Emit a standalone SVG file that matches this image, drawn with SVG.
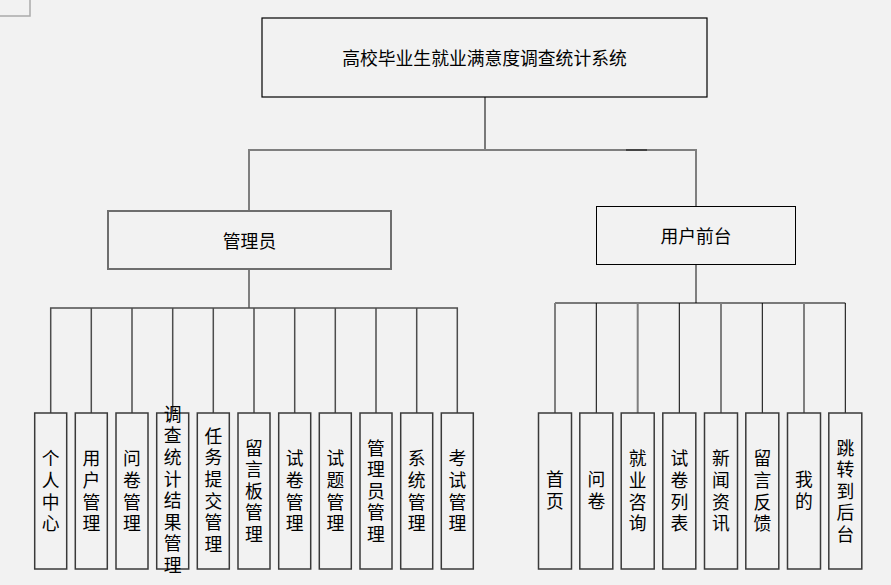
<svg xmlns="http://www.w3.org/2000/svg" width="891" height="585" viewBox="0 0 891 585">
<style>
text{font-family:"Noto Sans CJK SC","Noto Sans",sans-serif;font-size:17.8px;fill:#000;text-anchor:middle;dominant-baseline:central}
.v{writing-mode:vertical-rl;text-orientation:upright;letter-spacing:3.8px}
.box{fill:#f2f2f2;stroke:#3a3a3a;stroke-width:1.5}
.g{stroke:#7f7f7f;stroke-width:2;fill:none}
.k{stroke:#000;stroke-width:1;fill:none}
.d{stroke:#4d4d4d;stroke-width:1.5;fill:none}
</style>
<rect width="891" height="585" fill="#f2f2f2"/>
<path d="M0 16H30V0" fill="none" stroke="#aaa" stroke-width="1.5"/>
<g id="connectors">
<path class="k" d="M485 97V150"/>
<path class="g" d="M249 211V150H696V206"/>
<path d="M626 150H647" stroke="#444" stroke-width="2"/>
<path class="g" d="M249 269V308"/>
<path class="d" d="M50.7 413V308H457.3V413"/>
<path class="d" d="M91.3 308V413M132 308V413M172.7 308V413M213.3 308V413M254 308V413M294.7 308V413M335.3 308V413M376 308V413M416.7 308V413"/>
<path class="g" d="M696 264V303"/>
<path class="k" d="M555 303H845.3V413"/>
<path class="g" d="M555 303V413M637.7 303V413M721 303V413M804 303V413"/>
<path class="k" d="M596.3 303V413M679.3 303V413M762.3 303V413"/>
</g>
<g id="root"><rect x="262" y="18" width="445" height="79" fill="#f2f2f2" stroke="#000" stroke-width="1.2"/><text x="484.5" y="57">高校毕业生就业满意度调查统计系统</text></g>
<g id="admin"><rect x="108" y="211" width="283" height="58" fill="#f2f2f2" stroke="#6e6e6e" stroke-width="2"/><text x="249.5" y="240">管理员</text></g>
<g id="front"><rect x="596.5" y="206.5" width="199" height="58" fill="#f2f2f2" stroke="#000" stroke-width="1"/><text x="696" y="235">用户前台</text></g>
<g id="a1"><rect class="box" x="34.7" y="413" width="32" height="156"/><text class="v" x="50.7" y="493">个人中心</text></g>
<g id="a2"><rect class="box" x="75.3" y="413" width="32" height="156"/><text class="v" x="91.3" y="493">用户管理</text></g>
<g id="a3"><rect class="box" x="116" y="413" width="32" height="156"/><text class="v" x="132" y="493">问卷管理</text></g>
<g id="a4"><rect class="box" x="156.7" y="413" width="32" height="156"/><text class="v" x="172.7" y="491.5">调查统计结果管理</text></g>
<g id="a5"><rect class="box" x="197.3" y="413" width="32" height="156"/><text class="v" x="213.3" y="492">任务提交管理</text></g>
<g id="a6"><rect class="box" x="238" y="413" width="32" height="156"/><text class="v" x="254" y="493">留言板管理</text></g>
<g id="a7"><rect class="box" x="278.7" y="413" width="32" height="156"/><text class="v" x="294.7" y="493">试卷管理</text></g>
<g id="a8"><rect class="box" x="319.3" y="413" width="32" height="156"/><text class="v" x="335.3" y="493">试题管理</text></g>
<g id="a9"><rect class="box" x="360" y="413" width="32" height="156"/><text class="v" x="376" y="493">管理员管理</text></g>
<g id="a10"><rect class="box" x="400.7" y="413" width="32" height="156"/><text class="v" x="416.7" y="493">系统管理</text></g>
<g id="a11"><rect class="box" x="441.3" y="413" width="32" height="156"/><text class="v" x="457.3" y="493">考试管理</text></g>
<g id="u1"><rect class="box" x="538.5" y="413" width="33" height="156"/><text class="v" x="555" y="492">首页</text></g>
<g id="u2"><rect class="box" x="579.8" y="413" width="33" height="156"/><text class="v" x="596.3" y="492">问卷</text></g>
<g id="u3"><rect class="box" x="621.2" y="413" width="33" height="156"/><text class="v" x="637.7" y="493">就业咨询</text></g>
<g id="u4"><rect class="box" x="662.8" y="413" width="33" height="156"/><text class="v" x="679.3" y="493">试卷列表</text></g>
<g id="u5"><rect class="box" x="704.5" y="413" width="33" height="156"/><text class="v" x="721" y="493">新闻资讯</text></g>
<g id="u6"><rect class="box" x="745.8" y="413" width="33" height="156"/><text class="v" x="762.3" y="493">留言反馈</text></g>
<g id="u7"><rect class="box" x="787.5" y="413" width="33" height="156"/><text class="v" x="804" y="492">我的</text></g>
<g id="u8"><rect class="box" x="828.8" y="413" width="33" height="156"/><text class="v" x="845.3" y="493">跳转到后台</text></g>
</svg>
